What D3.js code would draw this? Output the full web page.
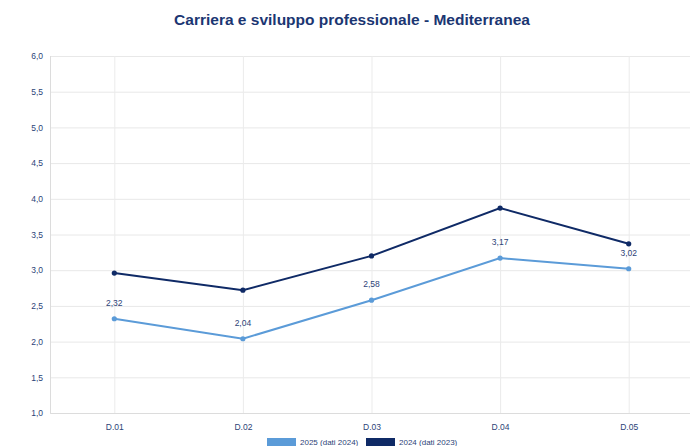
<!DOCTYPE html>
<html><head><meta charset="utf-8">
<script src="https://cdn.jsdelivr.net/npm/d3@7"></script>
<style>body{margin:0;background:#fff;font-family:"Liberation Sans",Arial,sans-serif}</style>
</head><body><svg id="c" width="690" height="446"></svg>
<script>
const categories=["D.01","D.02","D.03","D.04","D.05"];
const series2025=[2.32,2.04,2.58,3.17,3.02];
const series2024=[2.96,2.72,3.20,3.87,3.37];
const seriesNames=["2025 (dati 2024)","2024 (dati 2023)"];
const yTicks=[1,1.5,2,2.5,3,3.5,4,4.5,5,5.5,6];
const colors=["#5b9bd8","#0f2a66"];
const svg=d3.select("#c");
const fmt=v=>d3.format(".1f")(v).replace(".",",");
const fmt2=v=>d3.format(".2f")(v).replace(".",",");
const x=d3.scalePoint().domain(categories).range([50,693]).padding(0.5);
const y=d3.scaleLinear().domain([1,6]).range([413,56]);
svg.append("text").attr("x",352).attr("y",25).attr("text-anchor","middle")
 .attr("font-size",15.5).attr("font-weight","bold").attr("fill","#1b3672").text("Carriera e sviluppo professionale - Mediterranea");
// grid
const gy=svg.append("g").attr("transform","translate(50,0)")
 .call(d3.axisLeft(y).tickValues(yTicks).tickFormat(fmt).tickSize(-640).tickPadding(7));
gy.select(".domain").attr("stroke","#e6e6e6");
gy.selectAll(".tick line").attr("stroke","#e8e8e8");
gy.selectAll(".tick text").attr("fill","#2c4377").attr("font-size",8.5);
const gx=svg.append("g").attr("transform","translate(0,413)")
 .call(d3.axisBottom(x).tickSize(-357).tickPadding(11));
gx.select(".domain").attr("stroke","#dcdcdc");
gx.selectAll(".tick line").attr("stroke","#ebebeb");
gx.selectAll(".tick text").attr("fill","#2c4377").attr("font-size",8.5);
const data=[series2025,series2024];
const line=d3.line().x((d,i)=>x(categories[i])).y(d=>y(d));
data.forEach((s,k)=>{
 svg.append("path").datum(s).attr("d",line).attr("fill","none").attr("stroke",colors[k]).attr("stroke-width",2);
 svg.selectAll(null).data(s).enter().append("circle").attr("cx",(d,i)=>x(categories[i])).attr("cy",d=>y(d)).attr("r",2.6).attr("fill",colors[k]);
});
svg.selectAll(null).data(series2025).enter().append("text")
 .attr("x",(d,i)=>x(categories[i])).attr("y",d=>y(d)-13).attr("text-anchor","middle")
 .attr("font-size",8.5).attr("fill","#2c4377").text(fmt2);
// legend
const lg=[{x:267,name:seriesNames[0],c:colors[0]},{x:366,name:seriesNames[1],c:colors[1]}];
lg.forEach(l=>{
 svg.append("rect").attr("x",l.x).attr("y",438).attr("width",29).attr("height",10).attr("fill",l.c);
 svg.append("text").attr("x",l.x+33).attr("y",445).attr("font-size",8).attr("fill","#2c4377").text(l.name);
});
</script></body></html>
